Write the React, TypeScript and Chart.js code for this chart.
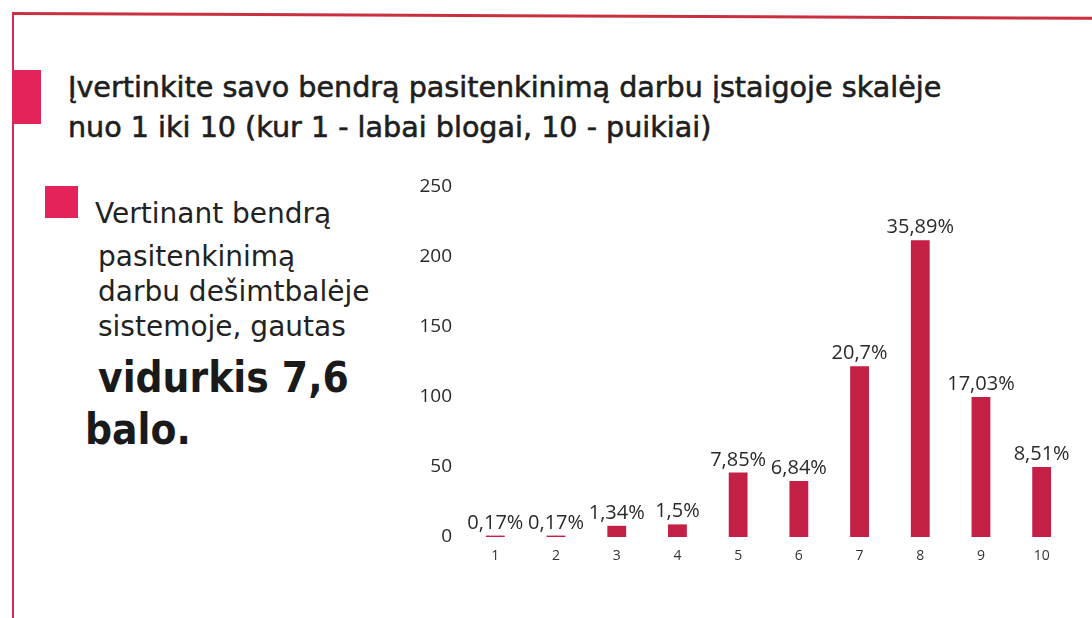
import React, { useEffect, useRef } from "react";
import { Chart, registerables } from "chart.js";

Chart.register(...registerables);

const categories = ["1", "2", "3", "4", "5", "6", "7", "8", "9", "10"];
const counts = [1, 1, 8, 9, 46, 40, 122, 212, 100, 50];
const percentLabels = ["0,17%", "0,17%", "1,34%", "1,5%", "7,85%", "6,84%", "20,7%", "35,89%", "17,03%", "8,51%"];
const yTicks = [0, 50, 100, 150, 200, 250];

const titleLines = [
  "Įvertinkite savo bendrą pasitenkinimą darbu įstaigoje skalėje",
  "nuo 1 iki 10 (kur 1 - labai blogai, 10 - puikiai)",
];
const bodyLines = ["Vertinant bendrą", "pasitenkinimą", "darbu dešimtbalėje", "sistemoje, gautas"];
const boldLines = ["vidurkis 7,6", "balo."];

const BAR_COLOR = "#c41f45";
const PINK = "#e3235a";

const barLabelPlugin = {
  id: "barLabels",
  afterDatasetsDraw(chart: any) {
    const ctx = chart.ctx;
    const meta = chart.getDatasetMeta(0);
    ctx.save();
    ctx.font = "20px 'Open Sans'";
    ctx.fillStyle = "#2a2a2a";
    ctx.textAlign = "center";
    ctx.textBaseline = "alphabetic";
    meta.data.forEach((bar: any, i: number) => {
      ctx.fillText(percentLabels[i], bar.x, bar.y - 7);
    });
    ctx.restore();
  },
};

export default function App() {
  const canvasRef = useRef<HTMLCanvasElement | null>(null);

  useEffect(() => {
    if (!canvasRef.current) return;
    const chart = new Chart(canvasRef.current, {
      type: "bar",
      data: {
        labels: categories,
        datasets: [
          {
            data: counts,
            backgroundColor: BAR_COLOR,
            borderWidth: 0,
            barPercentage: 0.31,
            categoryPercentage: 1,
          },
        ],
      },
      options: {
        animation: false,
        responsive: false,
        maintainAspectRatio: false,
        layout: { padding: { top: 27, right: 18, bottom: 0, left: 0 } },
        plugins: { legend: { display: false }, tooltip: { enabled: false }, title: { display: false } },
        scales: {
          x: {
            grid: { display: false, drawTicks: false },
            border: { display: false },
            ticks: { color: "#333", font: { family: "'Open Sans'", size: 14 }, padding: 11 },
            afterFit: (s: any) => {
              s.height = 43;
            },
          },
          y: {
            min: 0,
            max: 250,
            afterBuildTicks: (s: any) => {
              s.ticks = yTicks.map((v) => ({ value: v }));
            },
            grid: { display: false, drawTicks: false },
            border: { display: false },
            ticks: { color: "#2a2a2a", font: { family: "'Open Sans'", size: 19 }, padding: 13 },
            afterFit: (s: any) => {
              s.width = 65;
            },
          },
        },
      },
      plugins: [barLabelPlugin],
    } as any);
    return () => chart.destroy();
  }, []);

  const abs = (o: React.CSSProperties): React.CSSProperties => ({ position: "absolute", ...o });

  return (
    <div style={{ position: "fixed", left: 0, top: 0, width: 1092, height: 618, background: "#fff", overflow: "hidden" }}>
      <div style={abs({ left: 12, top: 12, width: 1090, height: 3, background: "#c8303f", transform: "rotate(0.25deg)", transformOrigin: "0 0" })} />
      <div style={abs({ left: 12, top: 12, width: 2, height: 606, background: "#d42b5a" })} />
      <div style={abs({ left: 13, top: 70, width: 28, height: 54, background: PINK })} />
      <div
        style={abs({
          left: 68,
          top: 67,
          fontFamily: "'DejaVu Sans'",
          fontWeight: 400,
          fontSize: 28.6,
          lineHeight: "40px",
          color: "#1e1e1e",
          WebkitTextStroke: "0.6px #1e1e1e",
          whiteSpace: "nowrap",
        } as any)}
      >
        {titleLines.map((t, i) => (
          <div key={i}>{t}</div>
        ))}
      </div>
      <div style={abs({ left: 45, top: 186, width: 33, height: 32, background: PINK })} />
      <div
        style={abs({
          left: 95,
          top: 196,
          fontFamily: "'DejaVu Sans'",
          fontSize: 28,
          lineHeight: "35px",
          color: "#222",
          whiteSpace: "nowrap",
        })}
      >
        {bodyLines.map((t, i) => (
          <div key={i} style={{ paddingLeft: i === 0 ? 0 : 3, marginTop: i === 1 ? 8 : 0 }}>
            {t}
          </div>
        ))}
      </div>
      <div
        style={abs({
          left: 97,
          top: 352,
          fontFamily: "'DejaVu Sans Condensed', 'DejaVu Sans'",
          fontWeight: 700,
          fontSize: 42,
          lineHeight: "52px",
          color: "#1a1a1a",
          whiteSpace: "nowrap",
        })}
      >
        {boldLines.map((t, i) => (
          <div key={i} style={{ marginLeft: i === 0 ? 1 : -12 }}>
            {t}
          </div>
        ))}
      </div>
      <div style={abs({ left: 400, top: 160, width: 690, height: 420 })}>
        <canvas ref={canvasRef} width={690} height={420} style={{ width: 690, height: 420 }} />
      </div>
    </div>
  );
}
